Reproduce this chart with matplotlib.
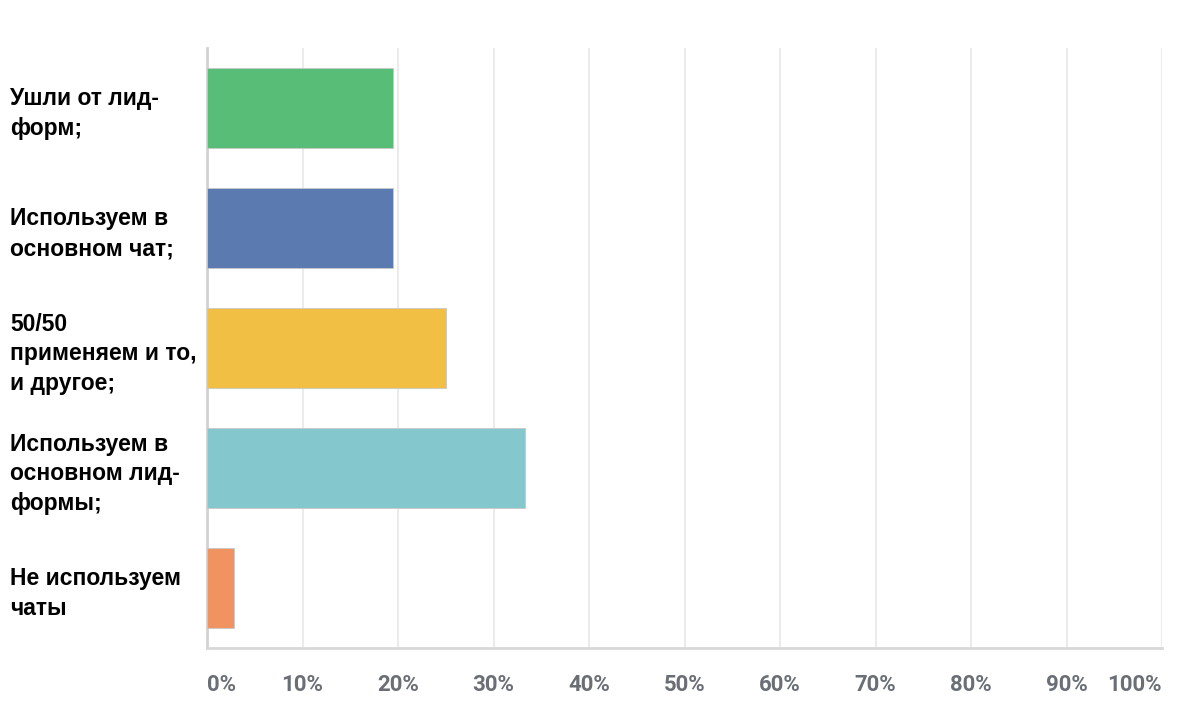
import matplotlib
matplotlib.use("Agg")
import matplotlib.pyplot as plt

# answers (top to bottom) and share of respondents, %
answers = [
    "Ушли от лид-\nформ;",
    "Используем в\nосновном чат;",
    "50/50\nприменяем и то,\nи другое;",
    "Используем в\nосновном лид-\nформы;",
    "Не используем\nчаты",
]
shares = [19.44, 19.44, 25.0, 33.33, 2.78]
bar_colors = ["#58bd76", "#5b7bb0", "#f0bf43", "#84c7cc", "#f09360"]
xticks = [0, 10, 20, 30, 40, 50, 60, 70, 80, 90, 100]
xtick_labels = [f"{t}%" for t in xticks]

W, H, DPI = 1178, 716, 100
fig = plt.figure(figsize=(W / DPI, H / DPI), dpi=DPI)
ax = fig.add_axes([207 / W, 68 / H, (1162 - 207) / W, 600 / H])

pos = list(range(len(answers)))
ax.barh(pos, shares, height=0.667, color=bar_colors,
        edgecolor="#c8c8c8", linewidth=0.6, zorder=3)

ax.set_xlim(0, 100)
ax.set_ylim(len(answers) - 0.5, -0.5)

ax.set_xticks(xticks)
ax.grid(axis="x", color="#ebebeb", linewidth=1.5, zorder=0)
ax.set_axisbelow(True)

for s in ["top", "right"]:
    ax.spines[s].set_visible(False)
ax.spines["left"].set_color("#d2d2d2")
ax.spines["left"].set_linewidth(2)
ax.spines["bottom"].set_color("#d8d8d8")
ax.spines["bottom"].set_linewidth(2)

ax.tick_params(axis="both", length=0)
ax.tick_params(axis="x", pad=19)
labels = ax.set_xticklabels(xtick_labels, fontsize=16, fontweight="bold",
                            color="#6b6f75", family="Roboto")
labels[0].set_ha("left")
labels[-1].set_ha("right")

ax.set_yticks(pos)
ax.set_yticklabels(answers, fontsize=16.5, fontweight="bold", color="black",
                   family="Liberation Sans", ha="left", linespacing=1.37)
ax.tick_params(axis="y", pad=(207 - 10) * 72 / DPI)

fig.savefig("out.png", dpi=DPI)
